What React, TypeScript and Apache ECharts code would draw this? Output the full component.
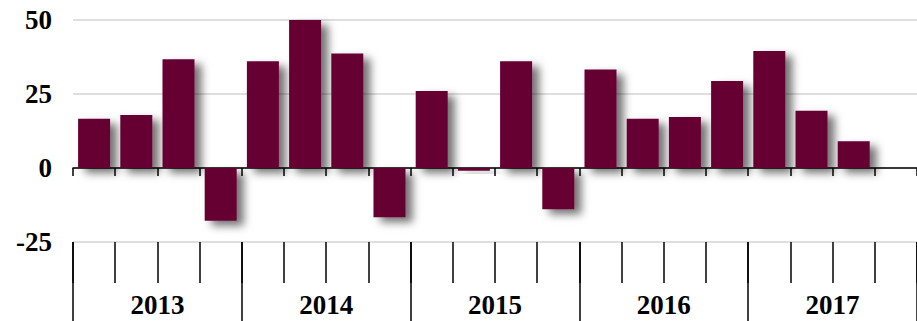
import React, { useEffect, useRef } from "react";
import * as echarts from "echarts";

const years = ["2013", "2014", "2015", "2016", "2017"];
const quarters = [
  "2013 Q1", "2013 Q2", "2013 Q3", "2013 Q4",
  "2014 Q1", "2014 Q2", "2014 Q3", "2014 Q4",
  "2015 Q1", "2015 Q2", "2015 Q3", "2015 Q4",
  "2016 Q1", "2016 Q2", "2016 Q3", "2016 Q4",
  "2017 Q1", "2017 Q2", "2017 Q3", "2017 Q4",
];
const values: (number | null)[] = [
  16.6, 17.9, 36.7, -17.8,
  36.1, 50.3, 38.7, -16.6,
  26.0, -0.9, 36.1, -13.9,
  33.3, 16.6, 17.2, 29.4,
  39.5, 19.3, 9.0, null,
];
const yTicks = [-25, 0, 25, 50];

const FONT = "Liberation Serif, Times New Roman, serif";

export default function App() {
  const ref = useRef<HTMLDivElement>(null);
  useEffect(() => {
    if (!ref.current) return;
    const chart = echarts.init(ref.current, null, { renderer: "svg" });
    chart.setOption({
      animation: false,
      backgroundColor: "#ffffff",
      grid: { left: 73, right: -2, top: 20, bottom: 79, containLabel: false },
      yAxis: {
        type: "value",
        min: yTicks[0],
        max: yTicks[yTicks.length - 1],
        interval: 25,
        axisLine: { show: false },
        axisTick: { show: false },
        axisLabel: {
          margin: 21,
          color: "#000",
          fontFamily: FONT,
          fontWeight: "bold",
          fontSize: 27,
        },
        splitLine: { lineStyle: { color: "#d4d4d4", width: 1.5 } },
      },
      xAxis: [
        {
          type: "category",
          data: quarters,
          position: "bottom",
          axisLine: { onZero: true, lineStyle: { color: "#000", width: 1.5 } },
          axisTick: { show: true, interval: 0, length: 8, lineStyle: { color: "#000", width: 1.5 } },
          axisLabel: { show: false, interval: 0 },
          splitLine: { show: false },
        },
        {
          type: "category",
          data: quarters,
          position: "bottom",
          axisLine: { show: false, onZero: false },
          axisTick: { show: true, interval: 0, length: 41, lineStyle: { color: "#000", width: 1.5 } },
          axisLabel: { show: false, interval: 0 },
          splitLine: { show: false },
        },
        {
          type: "category",
          data: years,
          position: "bottom",
          axisLine: { show: false, onZero: false },
          axisTick: { show: true, interval: 0, length: 90, lineStyle: { color: "#000", width: 1.5 } },
          axisLabel: {
            show: true,
            interval: 0,
            margin: 49,
            color: "#000",
            fontFamily: FONT,
            fontWeight: "bold",
            fontSize: 27,
          },
          splitLine: { show: false },
        },
      ],
      series: [
        {
          type: "bar",
          xAxisIndex: 0,
          data: values,
          barWidth: 32,
          itemStyle: {
            color: "#660033",
            shadowColor: "rgba(0,0,0,0.55)",
            shadowBlur: 9,
            shadowOffsetX: 7,
            shadowOffsetY: 5,
          },
        },
      ],
    });
    return () => chart.dispose();
  }, []);
  return (
    <div
      ref={ref}
      style={{ position: "fixed", left: 0, top: 0, width: 917, height: 321 }}
    />
  );
}
